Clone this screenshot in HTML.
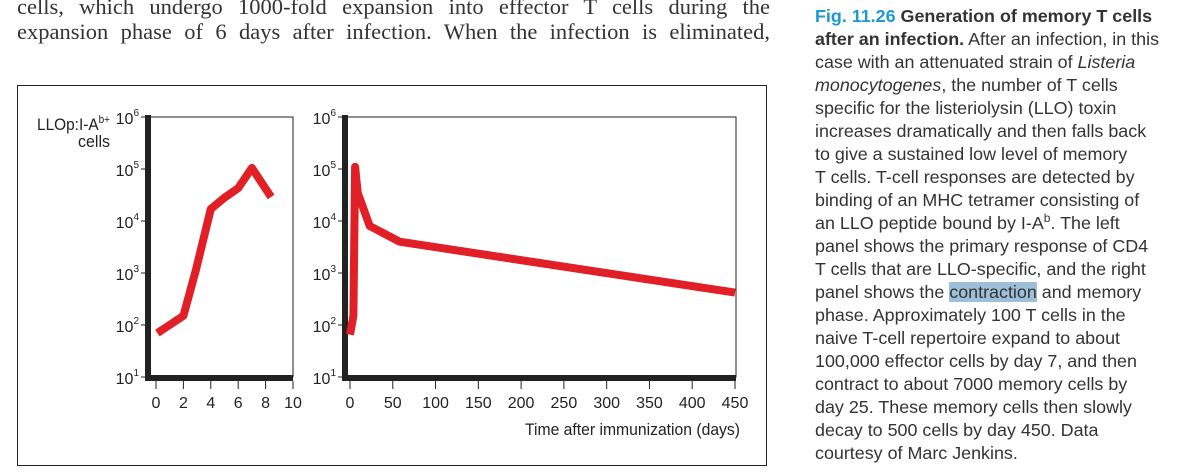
<!DOCTYPE html>
<html><head><meta charset="utf-8"><style>
html,body{margin:0;padding:0;background:#fff;}
body{width:1181px;height:473px;overflow:hidden;position:relative;font-family:"Liberation Sans",sans-serif;}
.top{position:absolute;left:17px;width:753px;font-family:"Liberation Serif",serif;font-size:22.5px;color:#333;text-align:justify;text-align-last:justify;white-space:nowrap;}
.cap{position:absolute;left:815px;top:5px;font-size:17.9px;line-height:23px;color:#333;}
.cap div{white-space:nowrap;}
.blue{color:#1d98d4;font-weight:bold;}
.hl{background:#9dbfda;}
</style></head><body>
<div class="top" style="top:-6px">cells, which undergo 1000-fold expansion into effector T cells during the</div>
<div class="top" style="top:19px">expansion phase of 6 days after infection. When the infection is eliminated,</div>
<div class="cap">
<div><span class="blue">Fig. 11.26</span> <b>Generation of memory T cells</b></div>
<div><b>after an infection.</b> After an infection, in this</div>
<div>case with an attenuated strain of <i>Listeria</i></div>
<div><i>monocytogenes</i>, the number of T cells</div>
<div>specific for the listeriolysin (LLO) toxin</div>
<div>increases dramatically and then falls back</div>
<div>to give a sustained low level of memory</div>
<div>T cells. T-cell responses are detected by</div>
<div>binding of an MHC tetramer consisting of</div>
<div>an LLO peptide bound by I-A<sup style="font-size:12px;line-height:0">b</sup>. The left</div>
<div>panel shows the primary response of CD4</div>
<div>T cells that are LLO-specific, and the right</div>
<div>panel shows the <span class="hl">contraction</span> and memory</div>
<div>phase. Approximately 100 T cells in the</div>
<div>naive T-cell repertoire expand to about</div>
<div>100,000 effector cells by day 7, and then</div>
<div>contract to about 7000 memory cells by</div>
<div>day 25. These memory cells then slowly</div>
<div>decay to 500 cells by day 450. Data</div>
<div>courtesy of Marc Jenkins.</div>
</div>
<svg id="chart" width="1181" height="473" style="position:absolute;left:0;top:0" font-family="Liberation Sans, sans-serif">
<rect x="17.5" y="85.5" width="749" height="380" fill="none" stroke="#222" stroke-width="1"/>
<text x="110" y="130" font-size="17" fill="#222" text-anchor="end" textLength="73" lengthAdjust="spacingAndGlyphs">LLOp:I-A<tspan font-size="11" dy="-7">b+</tspan></text>
<text x="110" y="147" font-size="17" fill="#222" text-anchor="end" textLength="32" lengthAdjust="spacingAndGlyphs">cells</text>
<text x="740" y="435" font-size="17" fill="#222" text-anchor="end" textLength="215" lengthAdjust="spacingAndGlyphs">Time after immunization (days)</text>
</svg>
<script>
const leftDays=[0.1,2,2.9,4,5,6,7,8.4];
const leftCells=[70,150,1100,17000,28000,43000,105000,29000];
const leftTicks=[0,2,4,6,8,10];
const rightDays=[0,4,6,9,23,58,450];
const rightCells=[65,150,110000,35000,8000,4000,420];
const rightTicks=[0,50,100,150,200,250,300,350,400,450];
const yExps=[1,2,3,4,5,6];
const svg=document.getElementById('chart');
const NS='http://www.w3.org/2000/svg';
function mk(t,a){const e=document.createElementNS(NS,t);for(const k in a)e.setAttribute(k,a[k]);svg.appendChild(e);return e;}
function yS(v){return 377-(Math.log10(v)-1)*52;}
function panel(p,days,cells,ticks){
  const xS=d=>p.x0+(d-ticks[0])/(ticks[ticks.length-1]-ticks[0])*(p.x1-p.x0);
  let e=mk('rect',{x:p.ax,y:117,width:p.right-p.ax,height:260,fill:'none',stroke:'#222','stroke-width':1});
  
  
  e=mk('line',{x1:p.ax,y1:115,x2:p.ax,y2:381,stroke:'#222','stroke-width':6});
  
  
  e=mk('line',{x1:p.ax,y1:378,x2:p.right,y2:378,stroke:'#222','stroke-width':6});
  
  
  yExps.forEach(k=>{const y=yS(Math.pow(10,k));
    e=mk('line',{x1:p.ax-7,y1:y,x2:p.ax,y2:y,stroke:'#222','stroke-width':1});
    
    
    e=mk('text',{x:p.ax-9,y:y+7,'font-size':16,fill:'#222','text-anchor':'end'});
    e.innerHTML='10<tspan font-size="10" dy="-8">'+k+'</tspan>';
    
    
  });
  ticks.forEach(t=>{const x=xS(t);
    e=mk('line',{x1:x,y1:381,x2:x,y2:389,stroke:'#222','stroke-width':1});
    
    
    e=mk('text',{x:x,y:408,'font-size':16,fill:'#222','text-anchor':'middle'});
    e.textContent=t;
    
    
  });
  const pts=days.map((d,i)=>xS(d).toFixed(1)+','+yS(cells[i]).toFixed(1)).join(' ');
  e=mk('polyline',{points:pts,fill:'none',stroke:'#e01f26','stroke-width':8,'stroke-linejoin':'round'});
  
  
}
panel({n:'left-panel',ax:148,right:293,x0:156,x1:293},leftDays,leftCells,leftTicks);
panel({n:'right-panel',ax:345,right:736,x0:350,x1:735},rightDays,rightCells,rightTicks);
</script>
</body></html>
